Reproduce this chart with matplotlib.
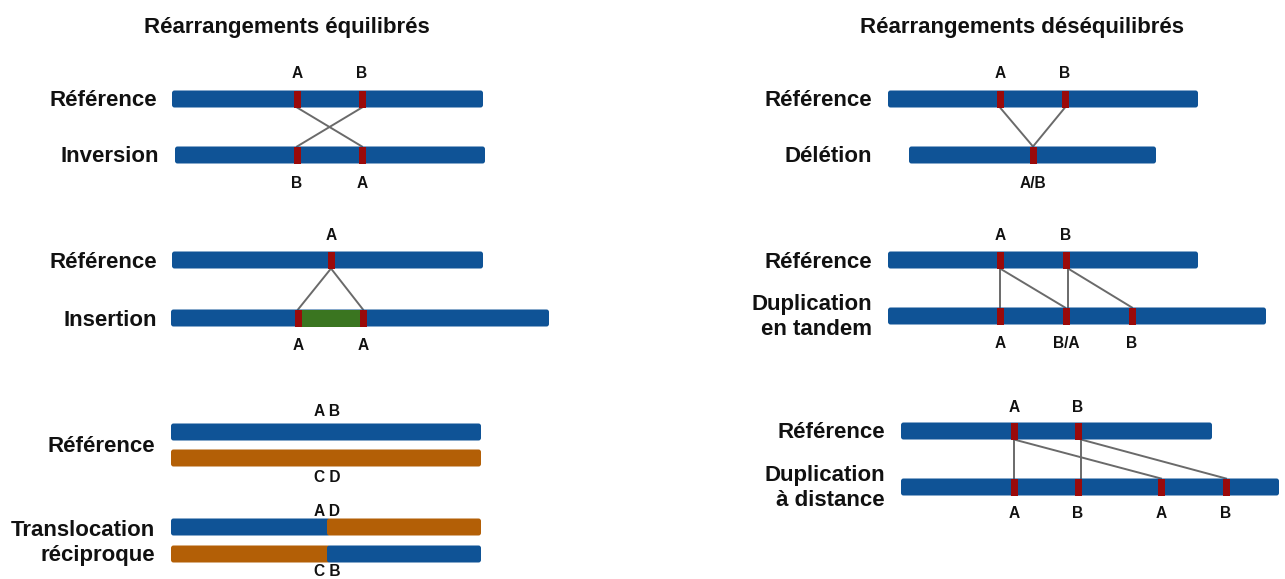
"""
Structural variants diagram: balanced vs unbalanced rearrangements.
"""

import matplotlib.pyplot as plt
from matplotlib.patches import FancyBboxPatch, Rectangle

plt.rcParams['font.family'] = ['Liberation Sans', 'DejaVu Sans']

# Colours
BLUE = '#0F5396'
RED = '#9A0A0A'
GREEN = '#3A7520'
ORANGE = '#B35F06'
LINK = '#6A6A6A'

# --- Balanced: inversion ---
inv_ref_span = (172, 483)
inv_ref_marks = [297, 362]
inv_ref_labels = ['A', 'B']
inv_alt_span = (175, 485)
inv_alt_marks = [297, 362]
inv_alt_labels = ['B', 'A']
inv_links = [(297, 362), (362, 297)]

# --- Balanced: insertion ---
ins_ref_span = (172, 483)
ins_ref_marks = [331]
ins_ref_labels = ['A']
ins_alt_span = (171, 549)
ins_alt_marks = [298, 363]
ins_alt_labels = ['A', 'A']
ins_insert = (298, 363)
ins_links = [(331, 298), (331, 363)]

# --- Balanced: reciprocal translocation ---
tr_span = (171, 481)
tr_break = 327
tr_ref_labels = ['A B', 'C D']
tr_alt_labels = ['A D', 'C B']

# --- Unbalanced: deletion ---
del_ref_span = (888, 1198)
del_ref_marks = [1000, 1065]
del_ref_labels = ['A', 'B']
del_alt_span = (909, 1156)
del_alt_marks = [1033]
del_alt_labels = ['A/B']
del_links = [(1000, 1033), (1065, 1033)]

# --- Unbalanced: tandem duplication ---
tan_ref_span = (888, 1198)
tan_ref_marks = [1000, 1066]
tan_ref_labels = ['A', 'B']
tan_alt_span = (888, 1266)
tan_alt_marks = [1000, 1066, 1132]
tan_alt_labels = ['A', 'B/A', 'B']
tan_links = [(1000, 1000), (1000, 1065), (1068, 1068), (1068, 1132)]

# --- Unbalanced: distant duplication ---
dis_ref_span = (901, 1212)
dis_ref_marks = [1014, 1078]
dis_ref_labels = ['A', 'B']
dis_alt_span = (901, 1279)
dis_alt_marks = [1014, 1078, 1161, 1226]
dis_alt_labels = ['A', 'B', 'A', 'B']
dis_links = [(1014, 1014), (1014, 1161), (1081, 1081), (1081, 1226)]

BAR_H = 17
MARK_W = 7


def bar(ax, span, y, color=BLUE):
    x0, x1 = span
    ax.add_patch(FancyBboxPatch((x0, y - BAR_H / 2), x1 - x0, BAR_H,
                                boxstyle='round,pad=0,rounding_size=2.5',
                                fc=color, ec='none', zorder=2))


def small(ax, x, y, text):
    ax.text(x, y + 1, text, ha='center', va='center', fontsize=11.2,
            fontweight='bold', color='#111111')


def marks(ax, xs, y, labels=None, label_y=None):
    for x in xs:
        ax.add_patch(Rectangle((x - MARK_W / 2, y - BAR_H / 2), MARK_W, BAR_H,
                               fc=RED, ec='none', zorder=3))
    if labels:
        for x, lab in zip(xs, labels):
            small(ax, x, label_y, lab)


def links(ax, pairs, y_top, y_bot):
    for xa, xb in pairs:
        ax.plot([xa, xb], [y_top + BAR_H / 2, y_bot - BAR_H / 2],
                color=LINK, lw=1.4, zorder=1)


def row_label(ax, x, y, text):
    ax.text(x, y + 2, text, ha='right', va='center', fontsize=16,
            fontweight='bold', color='#111111', linespacing=1.3)


fig = plt.figure(figsize=(12.85, 5.79), dpi=100)
ax = fig.add_axes([0, 0, 1, 1])
ax.set_xlim(0, 1285)
ax.set_ylim(579, 0)
ax.axis('off')

# Titles
ax.text(287, 27, 'Réarrangements équilibrés', ha='center', va='center',
        fontsize=16, fontweight='bold', color='#111111')
ax.text(1022, 28, 'Réarrangements déséquilibrés', ha='center', va='center',
        fontsize=16, fontweight='bold', color='#111111')

# Inversion
row_label(ax, 157, 99, 'Référence')
row_label(ax, 159, 155, 'Inversion')
bar(ax, inv_ref_span, 99)
bar(ax, inv_alt_span, 155)
links(ax, inv_links, 99, 155)
marks(ax, inv_ref_marks, 99, inv_ref_labels, 73)
marks(ax, inv_alt_marks, 155, inv_alt_labels, 182)

# Insertion
row_label(ax, 157, 260, 'Référence')
row_label(ax, 157, 318, 'Insertion')
bar(ax, ins_ref_span, 260)
bar(ax, ins_alt_span, 318)
ax.add_patch(Rectangle((ins_insert[0], 318 - BAR_H / 2),
                       ins_insert[1] - ins_insert[0], BAR_H,
                       fc=GREEN, ec='none', zorder=2.5))
links(ax, ins_links, 260, 318)
marks(ax, ins_ref_marks, 260, ins_ref_labels, 235)
marks(ax, ins_alt_marks, 318, ins_alt_labels, 344)

# Translocation
row_label(ax, 155, 445, 'Référence')
row_label(ax, 155, 541, 'Translocation\nréciproque')
bar(ax, tr_span, 432, BLUE)
bar(ax, tr_span, 458, ORANGE)
bar(ax, (tr_span[0], tr_break + 3), 527, BLUE)
bar(ax, (tr_break, tr_span[1]), 527, ORANGE)
bar(ax, (tr_span[0], tr_break + 3), 554, ORANGE)
bar(ax, (tr_break, tr_span[1]), 554, BLUE)
for lab, y in zip(tr_ref_labels + tr_alt_labels, [411, 477, 511, 571]):
    small(ax, tr_break, y, lab)

# Deletion
row_label(ax, 872, 99, 'Référence')
row_label(ax, 872, 155, 'Délétion')
bar(ax, del_ref_span, 99)
bar(ax, del_alt_span, 155)
links(ax, del_links, 99, 155)
marks(ax, del_ref_marks, 99, del_ref_labels, 73)
marks(ax, del_alt_marks, 155, del_alt_labels, 182)

# Tandem duplication
row_label(ax, 872, 260, 'Référence')
row_label(ax, 872, 315, 'Duplication\nen tandem')
bar(ax, tan_ref_span, 260)
bar(ax, tan_alt_span, 316)
links(ax, tan_links, 260, 316)
marks(ax, tan_ref_marks, 260, tan_ref_labels, 234)
marks(ax, tan_alt_marks, 316, tan_alt_labels, 342)

# Distant duplication
row_label(ax, 885, 431, 'Référence')
row_label(ax, 885, 486, 'Duplication\nà distance')
bar(ax, dis_ref_span, 431)
bar(ax, dis_alt_span, 487)
links(ax, dis_links, 431, 487)
marks(ax, dis_ref_marks, 431, dis_ref_labels, 406)
marks(ax, dis_alt_marks, 487, dis_alt_labels, 512)

fig.savefig('out.png', dpi=100)
